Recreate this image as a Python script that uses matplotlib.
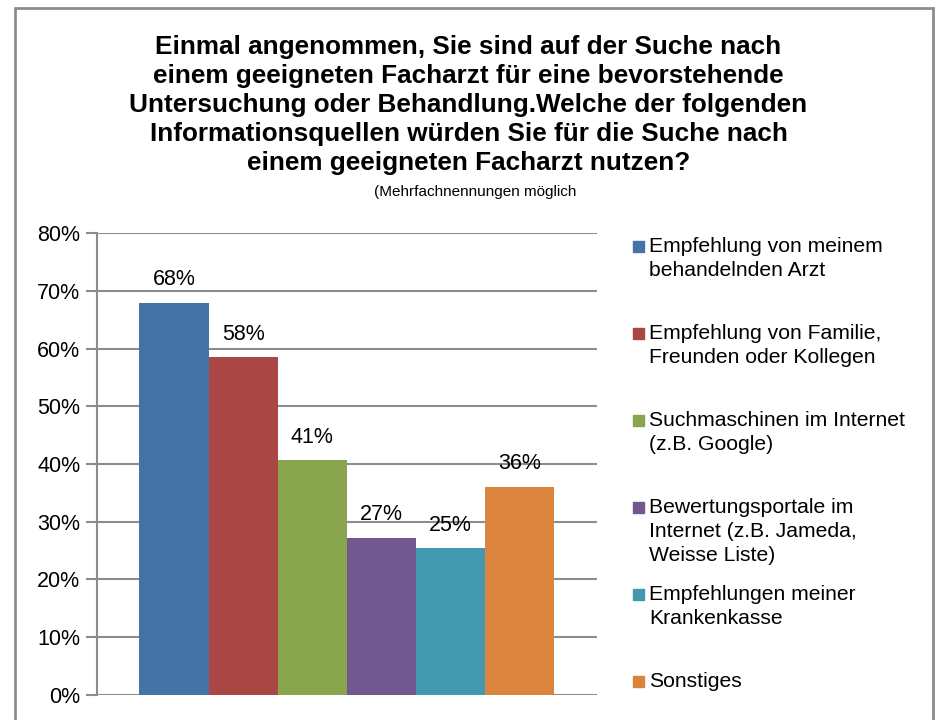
import matplotlib.pyplot as plt
from matplotlib.patches import Rectangle

# data
series = ['Empfehlung von meinem\nbehandelnden Arzt',
          'Empfehlung von Familie,\nFreunden oder Kollegen',
          'Suchmaschinen im Internet\n(z.B. Google)',
          'Bewertungsportale im\nInternet (z.B. Jameda,\nWeisse Liste)',
          'Empfehlungen meiner\nKrankenkasse',
          'Sonstiges']
values = [0.68, 0.585, 0.407, 0.272, 0.254, 0.361]
colors = ['#4572A7', '#AA4643', '#89A54E', '#71588F', '#4198AF', '#DB843D']
yticks = [0, 0.1, 0.2, 0.3, 0.4, 0.5, 0.6, 0.7, 0.8]

title = ('Einmal angenommen, Sie sind auf der Suche nach\n'
         'einem geeigneten Facharzt für eine bevorstehende\n'
         'Untersuchung oder Behandlung.Welche der folgenden\n'
         'Informationsquellen würden Sie für die Suche nach\n'
         'einem geeigneten Facharzt nutzen?')
subtitle = '(Mehrfachnennungen möglich'

plt.rcParams['font.family'] = ['Liberation Sans', 'DejaVu Sans']

fig = plt.figure(figsize=(9.37, 7.2), dpi=100)
ax = fig.add_axes([0.1035, 0.035, 0.5335, 0.641])

w = 0.83 / len(values)
for i, (v, c) in enumerate(zip(values, colors)):
    x = (i - (len(values) - 1) / 2) * w
    ax.bar(x, v, width=w, color=c, zorder=3)
    ax.annotate('%d%%' % round(v * 100), (x, v), xytext=(0, 9),
                textcoords='offset points', ha='center', va='bottom',
                fontsize=15.5, zorder=4)

ax.set_xlim(-0.5, 0.5)
ax.set_ylim(0, 0.8)
ax.set_yticks(yticks)
ax.set_yticklabels(['%d%%' % round(t * 100) for t in yticks], fontsize=15.5)
ax.set_xticks([])
ax.yaxis.grid(True, color='#8c8c8c', linewidth=1.5, zorder=0)
for s in ['top', 'right', 'bottom']:
    ax.spines[s].set_visible(False)
ax.spines['left'].set_color('#8c8c8c')
ax.spines['left'].set_linewidth(1.5)
ax.tick_params(axis='y', length=8, width=1.5, color='#8c8c8c', pad=4)

# title
fig.text(0.5, 1 - 35 / 720, title, ha='center', va='top', fontsize=18.8,
         fontweight='bold', linespacing=1.26)
fig.text(0.507, 1 - 192 / 720, subtitle, ha='center', va='center', fontsize=11)

# legend drawn in figure pixels
for i, (lab, c) in enumerate(zip(series, colors)):
    ymid = 720 - 246 - i * 87
    fig.patches.append(Rectangle((633, ymid - 5.5), 11, 11, color=c,
                                 transform=None))
    fig.text(649 / 937, (ymid + 9) / 720, lab, ha='left', va='top',
             fontsize=15.2, linespacing=1.33, transform=fig.transFigure)

# outer frame
fig.patches.append(Rectangle((15 / 937, -0.05), 918 / 937, 1.039,
                             transform=fig.transFigure, fill=False,
                             edgecolor='#8c8c8c', linewidth=2))

plt.savefig('out.png', dpi=100)
